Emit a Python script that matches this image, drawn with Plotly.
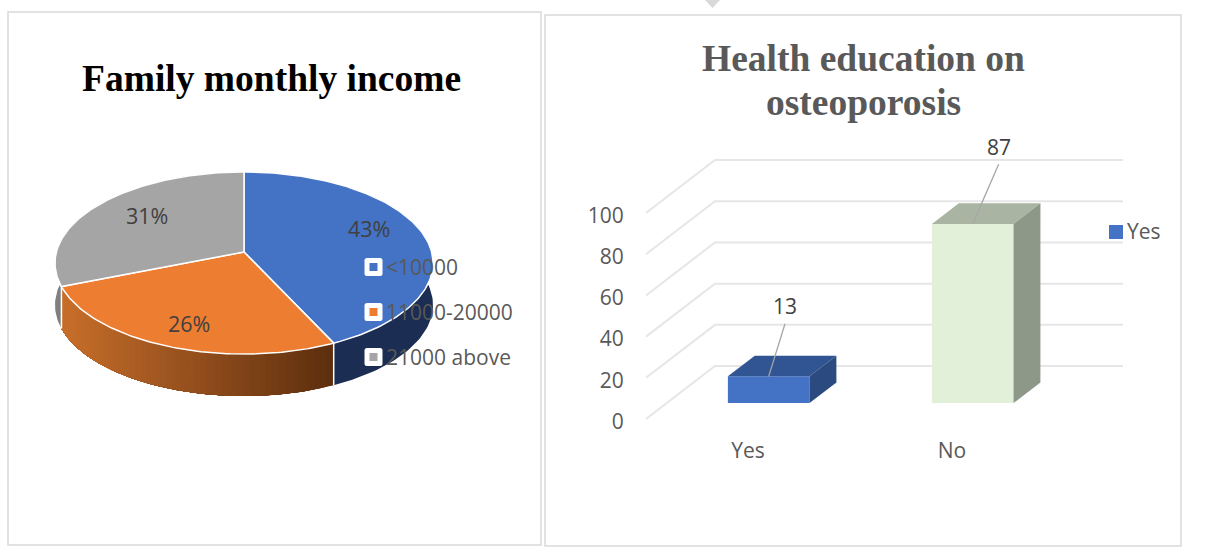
import math
import plotly.graph_objects as go

W, H = 1208, 551

# Family monthly income
income_labels = ["<10000", "11000-20000", "21000 above"]
income_share = [43, 26, 31]
income_colors = ["#4472C4", "#ED7D31", "#A5A5A5"]
wall_colors = ["#1B2D52", None, "#7F7F7F"]
share_label_pos = [(369, 228), (189, 323), (147, 215)]
legend_rows = [267, 312, 357]

# Health education on osteoporosis
edu_categories = ["Yes", "No"]
edu_values = [13, 87]
edu_front = ["#4472C4", "#E2EFD9"]
edu_top = ["#315593", "#A9B5A2"]
edu_side = ["#2A4A80", "#8D9888"]
edu_ticks = [0, 20, 40, 60, 80, 100]
leader_offsets = [(0.08, 25.5), (0.127, 29)]

# Pie projection: a unit circle seen through a mild perspective
CX, CY, A, B, K, WALL = 244, 252, 187.6, 89.7, 0.121, 42


def project(theta, r=1.0):
    x, y = r * math.sin(theta), -r * math.cos(theta)
    w = 1 - K * y
    return CX + A * x / w, CY + B * y / w


def arc(start, stop, steps=120):
    n = max(2, int(steps * (stop - start) / (2 * math.pi)) + 2)
    return [project(start + (stop - start) * i / (n - 1)) for i in range(n)]


def mix(c0, c1, t):
    return "rgb({},{},{})".format(*[round(a + (b - a) * t) for a, b in zip(c0, c1)])


fig = go.Figure()


def polygon(points, fill, line=None, width=0, xaxis="x", yaxis="y"):
    fig.add_trace(go.Scatter(
        x=[p[0] for p in points] + [points[0][0]],
        y=[p[1] for p in points] + [points[0][1]],
        mode="lines", fill="toself", fillcolor=fill, hoverinfo="skip",
        line=dict(color=line or fill, width=width if line else 0),
        showlegend=False, xaxis=xaxis, yaxis=yaxis,
    ))


# Slice angles, clockwise from twelve o'clock
total = sum(income_share)
edges = [0.0]
for share in income_share:
    edges.append(edges[-1] + 2 * math.pi * share / total)

# Pie wall: flat blue and grey, orange shaded left to right
for i in (0, 2):
    rim = arc(edges[i], edges[i + 1], 240)
    polygon(rim + [(x, y + WALL) for x, y in reversed(rim)], wall_colors[i])

# Each strip runs on to the far end of the slice so neighbours leave no seam
STRIPS = 48
left_x = project(edges[2])[0]
right_x = project(edges[1])[0]
for s in range(STRIPS):
    a0 = edges[1] + (edges[2] - edges[1]) * s / STRIPS
    a1 = edges[1] + (edges[2] - edges[1]) * (s + 1) / STRIPS
    rim = arc(a0, edges[2], 720)
    mid = (project(a0)[0] + project(a1)[0]) / 2
    t = (mid - left_x) / (right_x - left_x)
    polygon(rim + [(x, y + WALL) for x, y in reversed(rim)], mix((200, 110, 42), (92, 46, 14), t))

# White seams where the slices meet on the wall
for edge in (edges[1], edges[2]):
    ex, ey = project(edge)
    fig.add_trace(go.Scatter(
        x=[ex, ex], y=[ey, ey + WALL], mode="lines", hoverinfo="skip",
        line=dict(color="white", width=1.5), showlegend=False,
    ))

# Pie top
for i, color in enumerate(income_colors):
    polygon([(CX, CY)] + arc(edges[i], edges[i + 1], 360), color, "white", 1.5)

# Oblique depth of the bar chart, in axis units
DEPTH_U, DEPTH_V = 0.338, 25.7
BAR_NEAR, BAR_FAR = 0.30, 0.69
BAR_W = 0.40
PX_PER_V = 2.06

bar_x = [i + DEPTH_U * BAR_NEAR for i in range(len(edu_values))]
bar_base = DEPTH_V * BAR_NEAR
fig.add_trace(go.Bar(
    x=bar_x, y=edu_values, base=bar_base, width=BAR_W,
    marker=dict(color=edu_front, line=dict(width=0)),
    hoverinfo="skip", showlegend=False, xaxis="x2", yaxis="y2",
))

for i, value in enumerate(edu_values):
    x0 = bar_x[i] - BAR_W / 2
    x1 = bar_x[i] + BAR_W / 2
    top = bar_base + value
    du = DEPTH_U * (BAR_FAR - BAR_NEAR)
    dv = DEPTH_V * (BAR_FAR - BAR_NEAR)
    polygon([(x0, top), (x1, top), (x1 + du, top + dv), (x0 + du, top + dv)],
            edu_top[i], xaxis="x2", yaxis="y2")
    polygon([(x1, bar_base), (x1 + du, bar_base + dv), (x1 + du, top + dv), (x1, top)],
            edu_side[i], xaxis="x2", yaxis="y2")
    ox, oy = leader_offsets[i]
    fig.add_trace(go.Scatter(
        x=[bar_x[i], bar_x[i] + ox], y=[top, top + oy], mode="lines",
        line=dict(color="#A6A6A6", width=1.3), hoverinfo="skip",
        showlegend=False, xaxis="x2", yaxis="y2",
    ))
    fig.add_annotation(
        x=bar_x[i] + ox, y=top + oy + 8.5, xref="x2", yref="y2", text=str(value),
        showarrow=False, font=dict(family="Open Sans", size=21, color="#404040"),
    )

# Legend key of the bar chart
fig.add_trace(go.Scatter(
    x=[1116], y=[232], mode="markers",
    marker=dict(symbol="square", size=14, color=edu_front[0]),
    hoverinfo="skip", showlegend=False,
))
fig.add_annotation(x=1125, y=231, xref="x", yref="y", text=edu_categories[0], showarrow=False,
                   xanchor="left", font=dict(family="Open Sans", size=21, color="#595959"))

shapes = [
    dict(type="rect", xref="paper", yref="paper", x0=8 / W, x1=541 / W, y0=1 - 545 / H, y1=1 - 12 / H,
         line=dict(color="#D9D9D9", width=1.5), layer="below"),
    dict(type="rect", xref="paper", yref="paper", x0=545 / W, x1=1181 / W, y0=1 - 546 / H, y1=1 - 15 / H,
         line=dict(color="#D9D9D9", width=1.5), layer="below"),
    dict(type="path", xref="x", yref="y", path="M 705 0 L 720 0 L 712.5 8 Z",
         fillcolor="#D9D9D9", line=dict(width=0), layer="below"),
]

# Receding gridlines: side wall up to the back plane, then across it
right_edge = len(edu_categories) - 0.5 + DEPTH_U
for tick in edu_ticks:
    shapes.append(dict(
        type="path", xref="x2", yref="y2", layer="below",
        path=f"M -0.5 {tick} L {-0.5 + DEPTH_U} {tick + DEPTH_V} L {right_edge} {tick + DEPTH_V}",
        line=dict(color="#E6E6E6", width=2),
    ))


def rounded_square(cx, cy, half, r):
    return (f"M {cx - half + r} {cy - half} L {cx + half - r} {cy - half} "
            f"Q {cx + half} {cy - half} {cx + half} {cy - half + r} "
            f"L {cx + half} {cy + half - r} Q {cx + half} {cy + half} {cx + half - r} {cy + half} "
            f"L {cx - half + r} {cy + half} Q {cx - half} {cy + half} {cx - half} {cy + half - r} "
            f"L {cx - half} {cy - half + r} Q {cx - half} {cy - half} {cx - half + r} {cy - half} Z")


# Pie legend sits on top of the slices, white tile behind each swatch
for label, color, row in zip(income_labels, income_colors, legend_rows):
    shapes.append(dict(type="path", xref="x", yref="y", path=rounded_square(373.5, row, 9, 2.5),
                       fillcolor="white", line=dict(width=0), layer="above"))
    shapes.append(dict(type="rect", xref="x", yref="y", x0=369.5, x1=377.5, y0=row - 4, y1=row + 4,
                       fillcolor=color, line=dict(width=0), layer="above"))
    fig.add_annotation(x=384, y=row, xref="x", yref="y", text=label, showarrow=False,
                       xanchor="left", font=dict(family="Open Sans", size=21, color="#595959"))

for share, (lx, ly) in zip(income_share, share_label_pos):
    fig.add_annotation(x=lx, y=ly, xref="x", yref="y", text=f"{share}%", showarrow=False,
                       font=dict(family="Open Sans", size=21.5, color="#404040"))

TITLE_SIZE = 37.5
fig.add_annotation(x=271, y=78, xref="x", yref="y", text="<b>Family monthly income</b>",
                   showarrow=False, xanchor="center", yanchor="middle",
                   font=dict(family="Liberation Serif", size=TITLE_SIZE, color="#000000"))
for line, ly in zip(["Health education on", "osteoporosis"], [58, 102]):
    fig.add_annotation(x=863, y=ly, xref="x", yref="y", text=f"<b>{line}</b>",
                       showarrow=False, xanchor="center", yanchor="middle",
                       font=dict(family="Liberation Serif", size=TITLE_SIZE, color="#595959"))

# Value axis is laid out so that one unit spans PX_PER_V pixels from the baseline
y_bottom_px, y_top_px, y_zero_px = 426, 130, 419
x_left_px, x_right_px = 646, 1123

# Tick labels sit a little below their nominal height on the value axis
LABEL_DROP = 1.2

fig.update_layout(
    width=W, height=H, margin=dict(l=0, r=0, t=0, b=0, pad=0),
    paper_bgcolor="white", plot_bgcolor="rgba(0,0,0,0)", showlegend=False,
    barmode="overlay", shapes=shapes,
    xaxis=dict(domain=[0, 1], range=[0, W], visible=False, fixedrange=True),
    yaxis=dict(domain=[0, 1], range=[H, 0], visible=False, fixedrange=True),
    xaxis2=dict(
        domain=[x_left_px / W, x_right_px / W], range=[-0.5, right_edge], anchor="y2",
        tickmode="array", tickvals=list(range(len(edu_categories))), ticktext=edu_categories,
        showgrid=False, zeroline=False, showline=False, ticks="outside", ticklen=6,
        tickcolor="rgba(0,0,0,0)", tickfont=dict(family="Open Sans", size=21, color="#595959"),
        automargin=False,
    ),
    yaxis2=dict(
        domain=[1 - y_bottom_px / H, 1 - y_top_px / H],
        range=[(y_zero_px - y_bottom_px) / PX_PER_V, (y_zero_px - y_top_px) / PX_PER_V], anchor="x2",
        tickmode="array", tickvals=[t - LABEL_DROP for t in edu_ticks], ticktext=[str(t) for t in edu_ticks],
        showgrid=False, zeroline=False, showline=False,
        ticks="outside", ticklen=17, tickcolor="rgba(0,0,0,0)",
        tickfont=dict(family="Open Sans", size=21, color="#595959"),
        automargin=False,
    ),
)

fig.write_html("out.html", config=dict(displayModeBar=False))
